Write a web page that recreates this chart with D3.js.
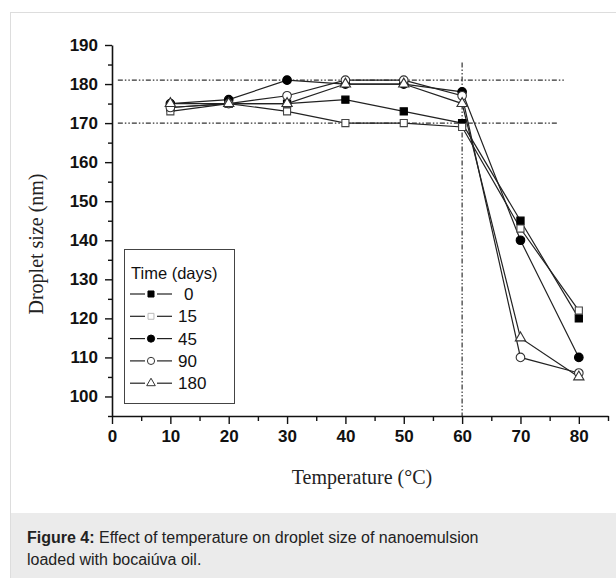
<!DOCTYPE html>
<html>
<head>
<meta charset="utf-8">
<script src="https://cdn.jsdelivr.net/npm/d3@7"></script>
<style>
  body { margin: 0; background: #fff; }
  svg { display: block; }
</style>
</head>
<body>
<div id="chart"></div>
<script>
const temps = [10, 20, 30, 40, 50, 60, 70, 80];
const day0 = [174, 175, 175, 176, 173, 170, 145, 120];
const day15 = [173, 175, 173, 170, 170, 169, 143, 122];
const day45 = [175, 176, 181, 180, 180, 178, 140, 110];
const day90 = [174, 175, 177, 181, 181, 177, 110, 106];
const day180 = [175, 175, 175, 180, 180, 175, 115, 105];
const seriesNames = ["0", "15", "45", "90", "180"];
const xTicks = [0, 10, 20, 30, 40, 50, 60, 70, 80];
const yTicks = [100, 110, 120, 130, 140, 150, 160, 170, 180, 190];
const refLevels = [181, 170];
const refTemp = 60;

const W = 616, H = 578;
const svg = d3.select("#chart").append("svg")
  .attr("width", W)
  .attr("height", H);

// panel frame + caption band
svg.append("rect")
  .attr("x", 10.5).attr("y", 12.5)
  .attr("width", 640).attr("height", 600)
  .attr("fill", "#fff").attr("stroke", "#ddd");
svg.append("rect")
  .attr("x", 11).attr("y", 513)
  .attr("width", W).attr("height", H - 513)
  .attr("fill", "#ebebeb");

const x = d3.scaleLinear().domain([0, 85]).range([112, 608]);
const y = d3.scaleLinear().domain([95, 190]).range([416, 45]);

// reference lines (dash-dot-dot)
const dashStyle = "5,2,1.5,2,1.5,2";
const refEnds = [77.5, 76.5];
refLevels.forEach((v, i) => {
  svg.append("line")
    .attr("x1", x(1)).attr("x2", x(refEnds[i]))
    .attr("y1", y(v)).attr("y2", y(v))
    .attr("stroke", "#333").attr("stroke-width", 1.2)
    .attr("stroke-dasharray", dashStyle);
});
svg.append("line")
  .attr("x1", x(refTemp)).attr("x2", x(refTemp))
  .attr("y1", y(185.5)).attr("y2", y(95))
  .attr("stroke", "#333").attr("stroke-width", 1.2)
  .attr("stroke-dasharray", dashStyle);

// axes
const xAxis = svg.append("g")
  .attr("transform", `translate(0,${y(95)})`)
  .call(d3.axisBottom(x).tickValues(d3.range(0, 86, 5)).tickSize(8).tickSizeOuter(0).tickPadding(6)
    .tickFormat(d => xTicks.includes(d) ? d : ""));
xAxis.selectAll(".tick line").filter(d => d % 10 !== 0).attr("y2", 5);

const yAxis = svg.append("g")
  .attr("transform", `translate(${x(0)},0)`)
  .call(d3.axisLeft(y).tickValues(d3.range(95, 191, 5)).tickSize(7).tickSizeOuter(0).tickPadding(7)
    .tickFormat(d => yTicks.includes(d) ? d : ""));
yAxis.selectAll(".tick line").filter(d => d % 10 !== 0).attr("x2", -4);

[xAxis, yAxis].forEach(g => {
  g.select(".domain").attr("stroke", "#111").attr("stroke-width", 1.6);
  g.selectAll(".tick line").attr("stroke", "#111").attr("stroke-width", 1.4);
  g.selectAll(".tick text")
    .attr("fill", "#111")
    .style("font-family", "'Liberation Sans', Arial, sans-serif")
    .style("font-weight", "bold")
    .style("font-size", "17px");
});

// axis titles
svg.append("text")
  .attr("x", 362).attr("y", 484)
  .attr("text-anchor", "middle")
  .style("font-family", "'Liberation Serif', 'Times New Roman', serif")
  .style("font-size", "20px")
  .attr("fill", "#222")
  .text("Temperature (°C)");
svg.append("text")
  .attr("transform", "translate(43,244) rotate(-90)")
  .attr("text-anchor", "middle")
  .style("font-family", "'Liberation Serif', 'Times New Roman', serif")
  .style("font-size", "20px")
  .attr("fill", "#222")
  .text("Droplet size (nm)");

// series
const allSeries = [day0, day15, day45, day90, day180];
const shapes = [
  {type: d3.symbolSquare, size: 52, fill: "#000", stroke: "#000"},
  {type: d3.symbolSquare, size: 50, fill: "#fff", stroke: "#444"},
  {type: d3.symbolCircle, size: 58, fill: "#000", stroke: "#000"},
  {type: d3.symbolCircle, size: 58, fill: "#fff", stroke: "#333"},
  {type: d3.symbolTriangle, size: 46, fill: "#fff", stroke: "#333"}
];

const line = d3.line()
  .x((d, i) => x(temps[i]))
  .y(d => y(d));

allSeries.forEach(vals => {
  svg.append("path")
    .datum(vals)
    .attr("fill", "none")
    .attr("stroke", "#222")
    .attr("stroke-width", 1.2)
    .attr("d", line);
});

allSeries.forEach((vals, s) => {
  svg.selectAll(".m" + s)
    .data(vals)
    .enter()
    .append("path")
    .attr("class", "m" + s)
    .attr("transform", (d, i) => `translate(${x(temps[i])},${y(d)})`)
    .attr("d", d3.symbol().type(shapes[s].type).size(shapes[s].size))
    .attr("fill", shapes[s].fill)
    .attr("stroke", shapes[s].stroke)
    .attr("stroke-width", 1.1);
});

// legend
const legend = svg.append("g");
legend.append("rect")
  .attr("x", 124.5).attr("y", 249.5)
  .attr("width", 110).attr("height", 154)
  .attr("fill", "#fff").attr("stroke", "#444").attr("stroke-width", 1);
legend.append("text")
  .attr("x", 131).attr("y", 279)
  .style("font-family", "'Liberation Sans', Arial, sans-serif")
  .style("font-size", "16.5px")
  .attr("fill", "#111")
  .text("Time (days)");

seriesNames.forEach((name, i) => {
  const cy = 294 + i * 22.3;
  [[130, 145], [157, 172]].forEach(seg => {
    legend.append("line")
      .attr("x1", seg[0]).attr("x2", seg[1])
      .attr("y1", cy).attr("y2", cy)
      .attr("stroke", "#222").attr("stroke-width", 1.2);
  });
  legend.append("path")
    .attr("transform", `translate(151,${cy})`)
    .attr("d", d3.symbol().type(shapes[i].type).size(shapes[i].size * 0.7))
    .attr("fill", shapes[i].fill)
    .attr("stroke", i === 1 ? "#bbb" : shapes[i].stroke)
    .attr("stroke-width", 1);
  legend.append("text")
    .attr("x", name === "0" ? 184 : 178).attr("y", cy + 6)
    .style("font-family", "'Liberation Sans', Arial, sans-serif")
    .style("font-size", "17px")
    .attr("fill", "#111")
    .text(name);
});

// caption
const caption = svg.append("text")
  .attr("x", 27).attr("y", 543)
  .style("font-family", "'Liberation Sans', Arial, sans-serif")
  .style("font-size", "16px")
  .attr("fill", "#222");
caption.append("tspan").style("font-weight", "bold").text("Figure 4:");
caption.append("tspan").text(" Effect of temperature on droplet size of nanoemulsion");
svg.append("text")
  .attr("x", 27).attr("y", 565)
  .style("font-family", "'Liberation Sans', Arial, sans-serif")
  .style("font-size", "16px")
  .attr("fill", "#222")
  .text("loaded with bocaiúva oil.");
</script>
</body>
</html>
